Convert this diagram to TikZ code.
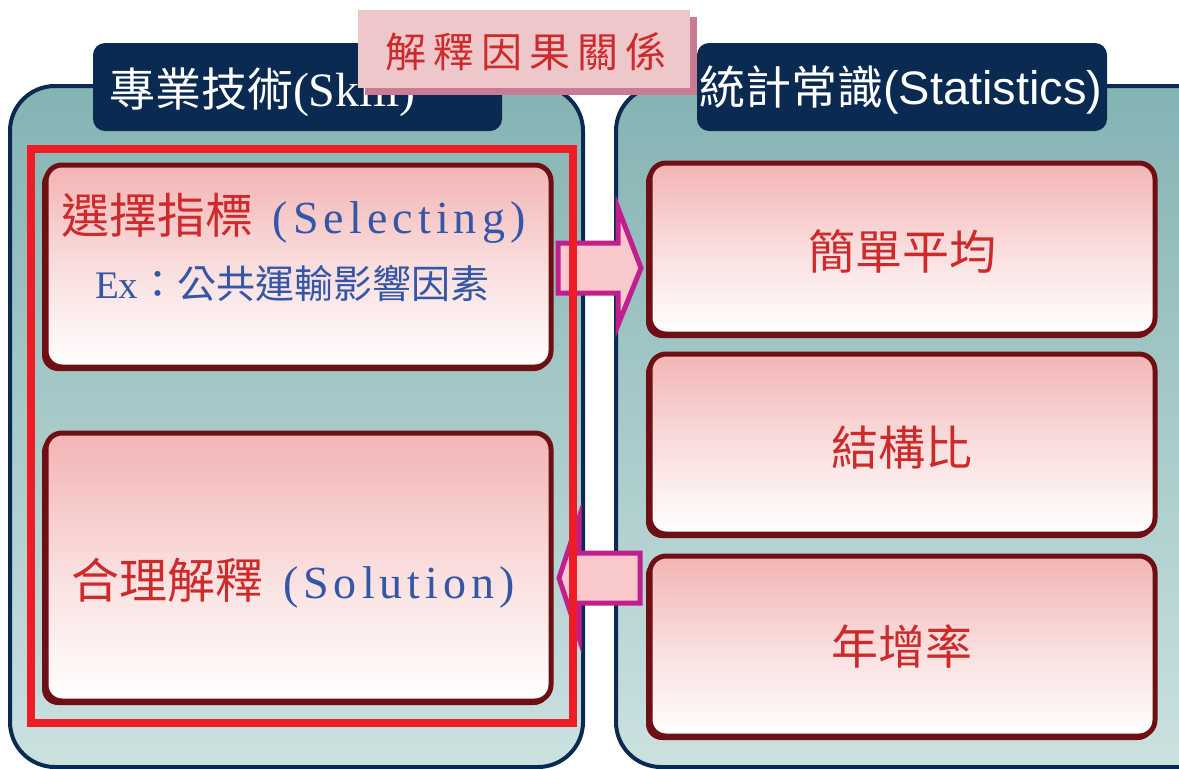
\documentclass[tikz,border=0pt]{standalone}
\usepackage{fontspec}
\setmainfont{Liberation Serif}
\newfontfamily\cjk{Noto Sans CJK TC}
\newfontfamily\arialf{Liberation Sans}
\newfontfamily\widserif[LetterSpace=11]{Liberation Serif}
\newfontfamily\cjkwide[LetterSpace=17]{Noto Sans CJK TC}
\definecolor{navy}{HTML}{0B2A52}
\definecolor{tealtop}{HTML}{84B3B3}
\definecolor{tealbot}{HTML}{CBE1E0}
\definecolor{darkred}{HTML}{6E0F14}
\definecolor{boxpink}{HTML}{F3B4B4}
\definecolor{txtred}{HTML}{CD2A2C}
\definecolor{txtblue}{HTML}{3456A6}
\definecolor{labelpink}{HTML}{EEC7CA}
\definecolor{labelshadow}{HTML}{C97B95}
\definecolor{arrowpink}{HTML}{F8C8CC}
\definecolor{arrowline}{HTML}{C21F8E}
\definecolor{framered}{HTML}{EE1C25}
\tikzset{
  panel/.style={draw=navy, line width=4pt, rounded corners=45pt, top color=tealtop, bottom color=tealbot},
  titlebox/.style={fill=navy, rounded corners=12pt},
  itembox/.style={draw=darkred, line width=5pt, rounded corners=16pt, top color=boxpink, bottom color=white, middle color=boxpink!45!white},
  itemshadow/.style={fill=darkred, rounded corners=16pt},
  blockarrow/.style={draw=arrowline, fill=arrowpink, line width=5pt, line join=miter},
  redframe/.style={draw=framered, line width=8pt},
  lbl/.style={inner sep=0pt, outer sep=0pt},
}
\begin{document}
\begin{tikzpicture}[x=1pt,y=-1pt]
\clip (0,0) rectangle (1179,769);
\fill[white] (0,0) rectangle (1179,769);
% panels
\path[panel] (10,86) rectangle (583,767);
\path[panel] (616,86) rectangle (1230,767);
% title boxes
\path[titlebox] (93,43) rectangle (502,131);
\path[titlebox] (697,43) rectangle (1107,131);
\node[lbl, anchor=west, text=white] (skilltitle) at (109,92)
  {\fontsize{46}{50}\selectfont{\cjk 專業技術}{\fontsize{48}{50}\selectfont(Skill)}};
\node[lbl, anchor=west, text=white] (stattitle) at (699,90)
  {\fontsize{46}{50}\selectfont{\cjk 統計常識}{\arialf\fontsize{47}{50}\selectfont(Statistics)}};
% pink label
\fill[labelshadow] (365,17) rectangle (697,95);
\fill[labelpink] (358,10) rectangle (690,88);
\node[lbl, text=txtred] (cause) at (526,52)
  {\fontsize{41}{46}\selectfont\cjkwide 解釋因果關係};
% left boxes
\path[itemshadow] (42,168) rectangle (550,371);
\path[itembox] (46,165) rectangle (551,367);
\path[itemshadow] (42,436) rectangle (550,705);
\path[itembox] (46,433) rectangle (551,701);
% right boxes
\path[itemshadow] (646,166) rectangle (1154,338);
\path[itembox] (650,163) rectangle (1155,334);
\path[itemshadow] (646,357) rectangle (1154,538);
\path[itembox] (650,354) rectangle (1155,534);
\path[itemshadow] (646,559) rectangle (1154,740);
\path[itembox] (650,556) rectangle (1155,736);
% texts
\node[lbl, anchor=west] (selecting) at (61,218)
  {\fontsize{48}{50}\selectfont{\color{txtred}\cjk 選擇指標}\hspace{20pt}{\color{txtblue}\widserif\fontsize{46}{50}\selectfont(Selecting)}};
\node[lbl, anchor=west, text=txtblue] (example) at (95,283)
  {\fontsize{39}{42}\selectfont Ex{\cjk ：公共運輸影響因素}};
\node[lbl, anchor=west] (solution) at (71,583)
  {\fontsize{48}{50}\selectfont{\color{txtred}\cjk 合理解釋}\hspace{20pt}{\color{txtblue}\widserif\fontsize{46}{50}\selectfont(Solution)}};
\node[lbl, text=txtred] (avg) at (902,252) {\fontsize{47}{50}\selectfont\cjk 簡單平均};
\node[lbl, text=txtred] (ratio) at (902,448) {\fontsize{47}{50}\selectfont\cjk 結構比};
\node[lbl, text=txtred] (growth) at (902,646) {\fontsize{47}{50}\selectfont\cjk 年增率};
% block arrows
\path[blockarrow] (558,243) -- (618,243) -- (618,208) -- (641,268) -- (618,325) -- (618,293) -- (558,293) -- cycle;
\path[blockarrow] (640,553) -- (579,553) -- (579,518) -- (559,578) -- (579,638) -- (579,603) -- (640,603) -- cycle;
% red frame
\draw[redframe] (31,149) rectangle (573,723);
\end{tikzpicture}
\end{document}
